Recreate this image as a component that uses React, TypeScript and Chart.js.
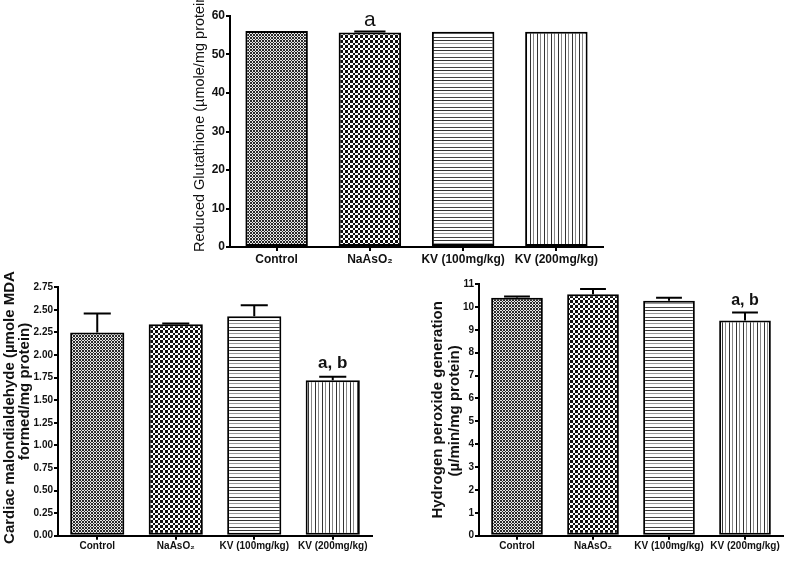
import React, { useEffect, useRef } from "react";
import { Chart, registerables } from "chart.js";

Chart.register(...registerables);

// ---------- data ----------
const categories = ["Control", "NaAsO₂", "KV (100mg/kg)", "KV (200mg/kg)"];

const gshValues = [56.1, 55.7, 55.9, 55.9];
const gshErrors = [0, 0.3, 0, 0];
const gshMarks = ["", "a", "", ""];
const gshTitle = ["Reduced Glutathione (µmole/mg protein)"];

const mdaValues = [2.25, 2.34, 2.43, 1.72];
const mdaErrors = [0.21, 0.01, 0.12, 0.04];
const mdaMarks = ["", "", "", "a, b"];
const mdaTitle = ["Cardiac malondialdehyde (µmole MDA", "formed/mg protein)"];

const h2o2Values = [10.4, 10.55, 10.27, 9.4];
const h2o2Errors = [0.05, 0.23, 0.13, 0.35];
const h2o2Marks = ["", "", "", "a, b"];
const h2o2Title = ["Hydrogen peroxide generation", "(µ/min/mg protein)"];

const FONT = '"Liberation Sans", Arial, sans-serif';

// ---------- fill patterns ----------
function checker(sizes: number[], dark: string, light: string) {
  const n = sizes.reduce((a, b) => a + b, 0);
  const c = document.createElement("canvas");
  c.width = n;
  c.height = n;
  const g = c.getContext("2d")!;
  g.fillStyle = light;
  g.fillRect(0, 0, n, n);
  g.fillStyle = dark;
  let y = 0;
  sizes.forEach((h, i) => {
    let x = 0;
    sizes.forEach((w, j) => {
      if ((i + j) % 2 === 0) g.fillRect(x, y, w, h);
      x += w;
    });
    y += h;
  });
  return g.createPattern(c, "repeat");
}

function stripes(dir: "h" | "v", period: number, lines: [number, string][]) {
  const c = document.createElement("canvas");
  c.width = dir === "v" ? period : 1;
  c.height = dir === "h" ? period : 1;
  const g = c.getContext("2d")!;
  g.fillStyle = "#fff";
  g.fillRect(0, 0, c.width, c.height);
  lines.forEach(([p, col]) => {
    g.fillStyle = col;
    if (dir === "h") g.fillRect(0, p, 1, 1);
    else g.fillRect(p, 0, 1, 1);
  });
  return g.createPattern(c, "repeat");
}

function makeFills() {
  return [
    checker([1, 2, 1, 2], "#2a2a2a", "#e8e8e8"),
    checker([3, 2, 3, 2], "#111", "#fff"),
    stripes("h", 10, [[0, "#333"], [3, "#999"], [7, "#444"]]),
    stripes("v", 7, [[0, "#333"], [3, "#888"]]),
  ];
}

type Panel = {
  left: number;
  top: number;
  width: number;
  height: number;
  padTop: number;
  padRight: number;
  yWidth: number;
  xHeight: number;
  values: number[];
  errors: number[];
  marks: string[];
  min: number;
  max: number;
  step: number;
  decimals: number;
  tickSize: number;
  xSize: number;
  barPct: number;
  title: string[];
  titleFont: string;
  titleOffsets: number[];
  titleShift: number[];
  titleAlign: "start" | "center";
  markFont: string;
  markGap: number;
};

const panels: Panel[] = [
  {
    left: 180, top: 0, width: 440, height: 270,
    padTop: 16, padRight: 17, yWidth: 50, xHeight: 23,
    values: gshValues, errors: gshErrors, marks: gshMarks,
    min: 0, max: 60, step: 10, decimals: 0,
    tickSize: 12, xSize: 12, barPct: 0.67,
    title: gshTitle, titleFont: `normal 14.5px ${FONT}`,
    titleOffsets: [30], titleShift: [5], titleAlign: "start",
    markFont: `normal 21px ${FONT}`, markGap: 5,
  },
  {
    left: 0, top: 250, width: 385, height: 314,
    padTop: 37.3, padRight: 13, yWidth: 58, xHeight: 28.3,
    values: mdaValues, errors: mdaErrors, marks: mdaMarks,
    min: 0, max: 2.75, step: 0.25, decimals: 2,
    tickSize: 10, xSize: 10, barPct: 0.69,
    title: mdaTitle, titleFont: `bold 15px ${FONT}`,
    titleOffsets: [48, 33], titleShift: [-4, -20], titleAlign: "center",
    markFont: `bold 17px ${FONT}`, markGap: 9,
  },
  {
    left: 400, top: 250, width: 386, height: 314,
    padTop: 34, padRight: 3, yWidth: 79, xHeight: 28.3,
    values: h2o2Values, errors: h2o2Errors, marks: h2o2Marks,
    min: 0, max: 11, step: 1, decimals: 0,
    tickSize: 10, xSize: 10, barPct: 0.68,
    title: h2o2Title, titleFont: `bold 15px ${FONT}`,
    titleOffsets: [41, 24], titleShift: [0, 1], titleAlign: "center",
    markFont: `bold 16px ${FONT}`, markGap: 8,
  },
];

function BarPanel({ p }: { p: Panel }) {
  const ref = useRef<HTMLCanvasElement | null>(null);

  useEffect(() => {
    if (!ref.current) return;
    const extras = {
      id: "extras",
      afterDatasetsDraw(chart: any) {
        const { ctx } = chart;
        const meta = chart.getDatasetMeta(0);
        const ys = chart.scales.y;
        ctx.save();
        ctx.strokeStyle = "#000";
        ctx.fillStyle = "#111";
        ctx.lineWidth = 2;
        meta.data.forEach((el: any, i: number) => {
          const err = p.errors[i];
          const yTop = ys.getPixelForValue(p.values[i] + err);
          if (err > 0) {
            const half = el.width / 4;
            ctx.beginPath();
            ctx.moveTo(el.x, el.y);
            ctx.lineTo(el.x, yTop);
            ctx.moveTo(el.x - half, yTop);
            ctx.lineTo(el.x + half, yTop);
            ctx.stroke();
          }
          if (p.marks[i]) {
            ctx.font = p.markFont;
            ctx.textAlign = "center";
            ctx.textBaseline = "alphabetic";
            ctx.fillText(p.marks[i], el.x, yTop - p.markGap);
          }
        });
        ctx.restore();
      },
      afterDraw(chart: any) {
        const { ctx, chartArea } = chart;
        ctx.save();
        ctx.fillStyle = "#111";
        ctx.font = p.titleFont;
        p.title.forEach((line, i) => {
          ctx.save();
          const x = chartArea.left - p.titleOffsets[i];
          const y =
            p.titleAlign === "start"
              ? chartArea.bottom + p.titleShift[i]
              : (chartArea.top + chartArea.bottom) / 2 + p.titleShift[i];
          ctx.translate(x, y);
          ctx.rotate(-Math.PI / 2);
          ctx.textAlign = p.titleAlign === "start" ? "left" : "center";
          ctx.textBaseline = "middle";
          ctx.fillText(line, 0, 0);
          ctx.restore();
        });
        ctx.restore();
      },
    };

    const axisCommon = {
      grid: {
        display: true,
        drawOnChartArea: false,
        drawTicks: true,
        tickLength: 4,
        color: "#000",
        lineWidth: 2,
        offset: false,
      },
      border: { display: true, color: "#000", width: 2 },
    };

    const chart = new Chart(ref.current, {
      type: "bar",
      data: {
        labels: categories,
        datasets: [
          {
            data: p.values,
            backgroundColor: makeFills() as any,
            borderColor: "#000",
            borderWidth: 2,
            borderSkipped: false,
            categoryPercentage: 1,
            barPercentage: p.barPct,
          },
        ],
      },
      options: {
        responsive: false,
        animation: false,
        events: [],
        layout: { padding: { top: p.padTop, right: p.padRight, left: 0, bottom: 0 } },
        plugins: {
          legend: { display: false },
          tooltip: { enabled: false },
          title: { display: false },
        },
        scales: {
          x: {
            type: "category",
            offset: true,
            ...axisCommon,
            ticks: {
              color: "#111",
              font: { family: FONT, size: p.xSize, weight: "bold" },
              padding: 1,
              maxRotation: 0,
              autoSkip: false,
            },
            afterFit: (s: any) => {
              s.height = p.xHeight;
            },
          },
          y: {
            min: p.min,
            max: p.max,
            ...axisCommon,
            ticks: {
              stepSize: p.step,
              color: "#111",
              font: { family: FONT, size: p.tickSize, weight: "bold" },
              padding: 1,
              callback: (v: any) => Number(v).toFixed(p.decimals),
            },
            afterFit: (s: any) => {
              s.width = p.yWidth;
            },
          },
        },
      } as any,
      plugins: [extras],
    });
    return () => chart.destroy();
  }, [p]);

  return (
    <canvas
      ref={ref}
      width={p.width}
      height={p.height}
      style={{ position: "absolute", left: p.left, top: p.top, width: p.width, height: p.height }}
    />
  );
}

export default function App() {
  return (
    <div
      style={{
        position: "absolute",
        left: 0,
        top: 0,
        width: 786,
        height: 564,
        background: "#fff",
        overflow: "hidden",
      }}
    >
      {panels.map((p, i) => (
        <BarPanel key={i} p={p} />
      ))}
    </div>
  );
}
